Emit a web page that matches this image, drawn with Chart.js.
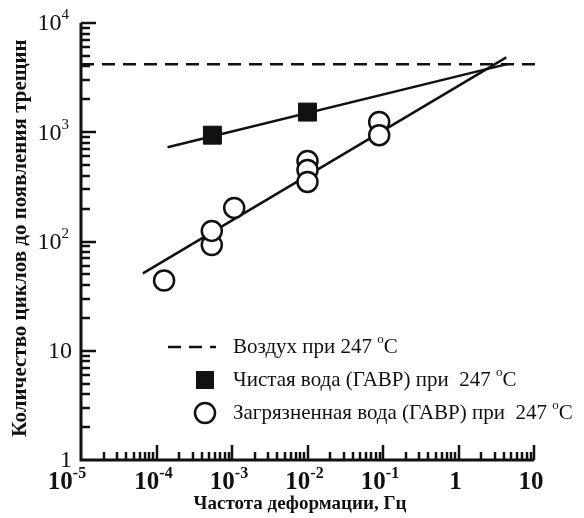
<!DOCTYPE html>
<html>
<head>
<meta charset="utf-8">
<script src="https://cdn.jsdelivr.net/npm/chart.js@4"></script>
<style>
  html, body { margin: 0; padding: 0; background: #fff; }
  #wrap { width: 584px; height: 518px; }
</style>
</head>
<body>
<div id="wrap"><canvas id="chart" width="584" height="518"></canvas></div>
<script>
// values (log-log)
const airX = [1e-5, 12];
const airY = [4200, 4200];

const cleanLineX = [1.4e-4, 4.4];
const cleanLineY = [730, 4200];
const cleanX = [5.5e-4, 1e-2];
const cleanY = [940, 1530];

const dirtyLineX = [6.6e-5, 4.3];
const dirtyLineY = [51, 4850];
const dirtyX = [1.26e-4, 5.4e-4, 5.4e-4, 1.07e-3, 1e-2, 1e-2, 1e-2, 8.9e-2, 8.9e-2];
const dirtyY = [44, 93, 125, 203, 546, 451, 351, 1240, 940];

const xTickExp = [-5, -4, -3, -2, -1, 0, 1];
const xTickLabels = [['10', '-5'], ['10', '-4'], ['10', '-3'], ['10', '-2'], ['10', '-1'], ['1', ''], ['10', '']];
const yTickExp = [0, 1, 2, 3, 4];
const yTickLabels = [['1', ''], ['10', ''], ['10', '2'], ['10', '3'], ['10', '4']];

const legendLabels = [
    ['Воздух при 247 ', 'o', 'C'],
    ['Чистая вода (ГАВР) при  247 ', 'o', 'C'],
    ['Загрязненная вода (ГАВР) при  247 ', 'o', 'C']
];

const SERIF = "'Liberation Serif', 'Times New Roman', serif";

function pts(xs, ys) {
    return xs.map((x, i) => ({ x: x, y: ys[i] }));
}

// text with a raised small part, e.g. 10^-4
function supText(ctx, base, sup, x, y, align, size, bold) {
    const w = bold ? 'bold ' : '';
    ctx.font = w + size + 'px ' + SERIF;
    const bw = ctx.measureText(base).width;
    ctx.font = w + Math.round(size * 0.62) + 'px ' + SERIF;
    const sw = sup ? ctx.measureText(sup).width : 0;
    const total = bw + sw;
    let x0 = x;
    if (align === 'center') x0 = x - total / 2;
    if (align === 'right') x0 = x - total;
    ctx.textAlign = 'left';
    ctx.textBaseline = 'middle';
    ctx.font = w + size + 'px ' + SERIF;
    ctx.fillText(base, x0, y);
    if (sup) {
        ctx.font = w + Math.round(size * 0.62) + 'px ' + SERIF;
        ctx.fillText(sup, x0 + bw, y - size * 0.36);
    }
}

const axesPlugin = {
    id: 'axes',
    afterDraw(chart) {
        const ctx = chart.ctx;
        const xs = chart.scales.x;
        const ys = chart.scales.y;
        const a = chart.chartArea;
        ctx.save();
        ctx.strokeStyle = '#111';
        ctx.fillStyle = '#111';

        // axis lines
        ctx.lineWidth = 3;
        ctx.beginPath();
        ctx.moveTo(a.left, a.top);
        ctx.lineTo(a.left, a.bottom);
        ctx.lineTo(a.right, a.bottom);
        ctx.stroke();

        // inward ticks
        ctx.lineWidth = 2.5;
        ctx.beginPath();
        for (let d = -5; d <= 0; d++) {
            for (let m = 2; m <= 10; m++) {
                const px = Math.round(xs.getPixelForValue(m * Math.pow(10, d)));
                const len = m === 10 ? 15 : 8;
                ctx.moveTo(px, a.bottom);
                ctx.lineTo(px, a.bottom - len);
            }
        }
        for (let d = 0; d <= 3; d++) {
            for (let m = 2; m <= 10; m++) {
                const py = Math.round(ys.getPixelForValue(m * Math.pow(10, d)));
                const len = m === 10 ? 15 : 9;
                ctx.moveTo(a.left, py);
                ctx.lineTo(a.left + len, py);
            }
        }
        ctx.stroke();

        // tick labels
        xTickExp.forEach((e, i) => {
            const px = xs.getPixelForValue(Math.pow(10, e));
            const shift = i === 0 ? -14 : -3;
            supText(ctx, xTickLabels[i][0], xTickLabels[i][1], px + shift, a.bottom + 23, 'center', 25, true);
        });
        yTickExp.forEach((e, i) => {
            const py = ys.getPixelForValue(Math.pow(10, e));
            const right = yTickLabels[i][1] ? 69 : 72;
            supText(ctx, yTickLabels[i][0], yTickLabels[i][1], right, py + 1, 'right', 24, false);
        });

        // axis titles
        ctx.font = 'bold 19px ' + SERIF;
        ctx.textAlign = 'center';
        ctx.textBaseline = 'middle';
        ctx.fillText('Частота деформации, Гц', 300, 504);
        ctx.font = 'bold 21px ' + SERIF;
        ctx.save();
        ctx.translate(21, 238);
        ctx.rotate(-Math.PI / 2);
        ctx.fillText('Количество циклов до появления трещин', 0, 0);
        ctx.restore();

        // legend
        const lx = 205, rows = [347, 380, 413], tx = 233;
        ctx.lineWidth = 2.5;
        ctx.setLineDash([13, 8]);
        ctx.beginPath();
        ctx.moveTo(168, rows[0]);
        ctx.lineTo(216, rows[0]);
        ctx.stroke();
        ctx.setLineDash([]);
        ctx.fillRect(lx - 9, rows[1] - 9, 18, 18);
        ctx.beginPath();
        ctx.arc(lx, rows[2], 10, 0, Math.PI * 2);
        ctx.fillStyle = '#fff';
        ctx.fill();
        ctx.stroke();
        ctx.fillStyle = '#111';
        legendLabels.forEach((l, i) => {
            ctx.font = '21px ' + SERIF;
            ctx.textAlign = 'left';
            ctx.textBaseline = 'middle';
            const w1 = ctx.measureText(l[0]).width;
            ctx.fillText(l[0], tx, rows[i]);
            ctx.font = '13px ' + SERIF;
            const w2 = ctx.measureText(l[1]).width;
            ctx.fillText(l[1], tx + w1, rows[i] - 7);
            ctx.font = '21px ' + SERIF;
            ctx.fillText(l[2], tx + w1 + w2, rows[i]);
        });
        ctx.restore();
    }
};

const chart = new Chart(document.getElementById('chart'), {
    type: 'scatter',
    data: {
        datasets: [
            {
                label: 'Загрязненная вода',
                data: pts(dirtyX, dirtyY),
                pointStyle: 'circle',
                pointRadius: 10,
                backgroundColor: '#fff',
                borderColor: '#111',
                borderWidth: 2.5,
                showLine: false,
                order: 1
            },
            {
                label: 'Чистая вода',
                data: pts(cleanX, cleanY),
                pointStyle: 'rect',
                pointRadius: 12.7,
                backgroundColor: '#111',
                borderColor: '#111',
                borderWidth: 1,
                showLine: false,
                order: 1
            },
            {
                label: 'fit dirty',
                data: pts(dirtyLineX, dirtyLineY),
                showLine: true,
                pointRadius: 0,
                borderColor: '#111',
                borderWidth: 2.5,
                clip: false,
                order: 2
            },
            {
                label: 'fit clean',
                data: pts(cleanLineX, cleanLineY),
                showLine: true,
                pointRadius: 0,
                borderColor: '#111',
                borderWidth: 2.5,
                clip: false,
                order: 2
            },
            {
                label: 'Воздух',
                data: pts(airX, airY),
                showLine: true,
                pointRadius: 0,
                borderColor: '#111',
                borderWidth: 2.5,
                borderDash: [13, 8],
                clip: false,
                order: 3
            }
        ]
    },
    options: {
        responsive: false,
        animation: false,
        events: [],
        layout: { padding: { top: 23, right: 50, left: 0, bottom: 0 } },
        plugins: {
            legend: { display: false },
            tooltip: { enabled: false }
        },
        scales: {
            x: {
                type: 'logarithmic',
                min: 1e-5,
                max: 10,
                grid: { display: false },
                border: { display: false },
                ticks: { display: false },
                afterFit(s) { s.height = 58; }
            },
            y: {
                type: 'logarithmic',
                min: 1,
                max: 1e4,
                grid: { display: false },
                border: { display: false },
                ticks: { display: false },
                afterFit(s) { s.width = 81; }
            }
        }
    },
    plugins: [axesPlugin]
});
</script>
</body>
</html>
